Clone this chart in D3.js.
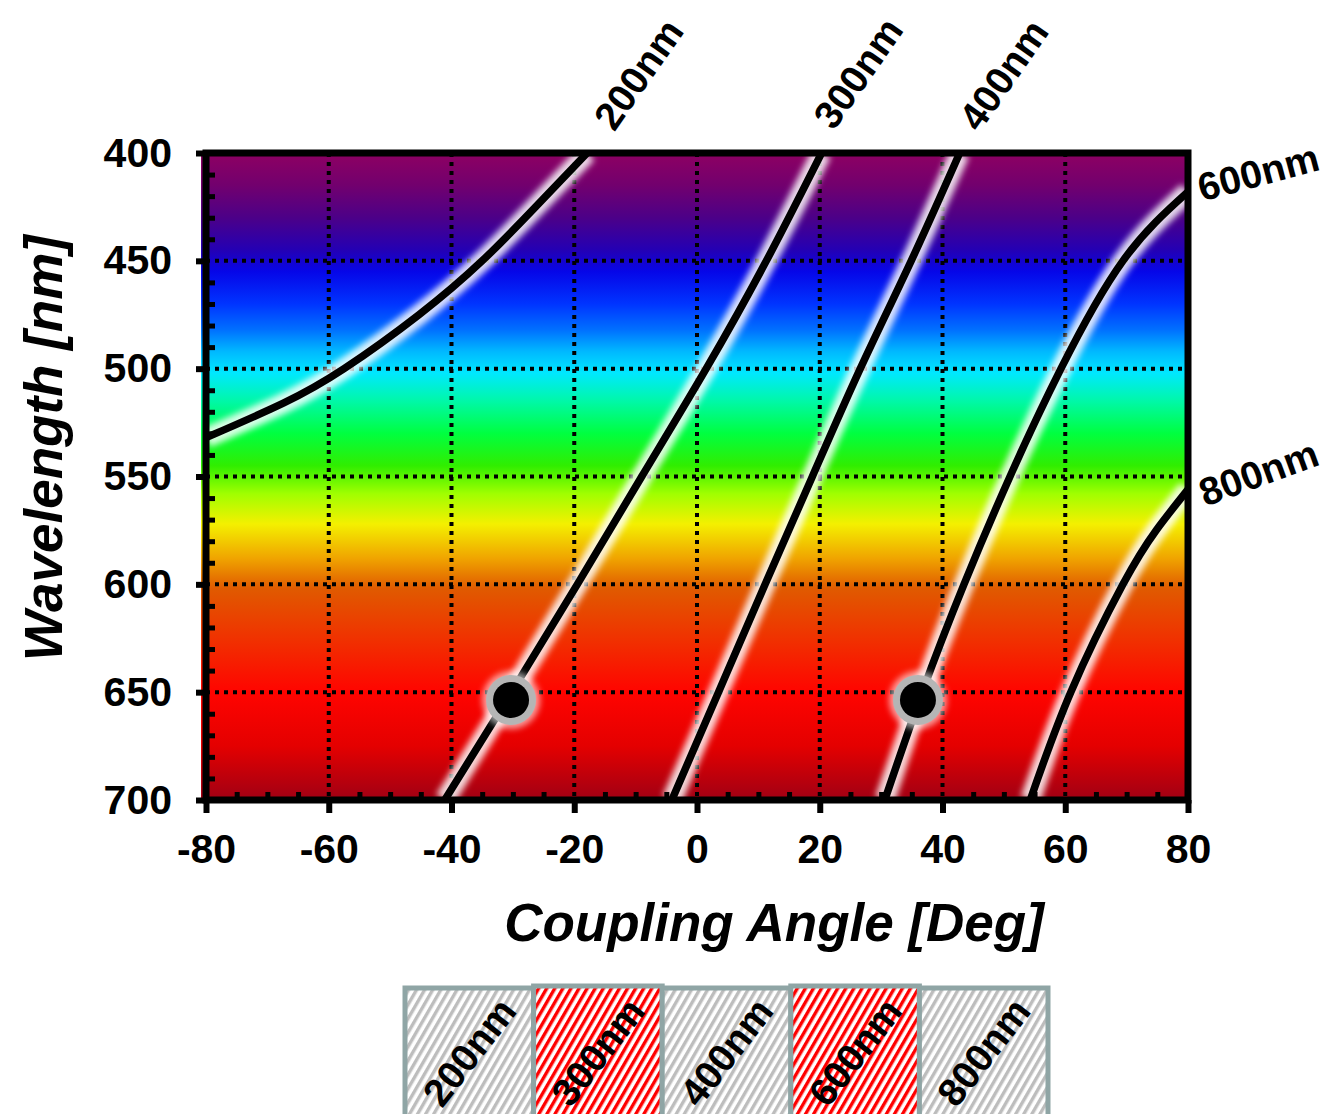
<!DOCTYPE html>
<html>
<head>
<meta charset="utf-8">
<script src="https://cdn.jsdelivr.net/npm/d3@7"></script>
<style>
body{margin:0;background:#fff;}
svg text{font-family:"Liberation Sans",Arial,sans-serif;font-weight:bold;}
</style>
</head>
<body>
<svg id="chart"></svg>
<script>
// grating pitches and their coupling curves, points as [wavelength nm, angle deg]
var pitches = ["200nm","300nm","400nm","600nm","800nm"];
var curve200 = [[400,-17.9],[425,-26.3],[450,-35.0],[475,-45.3],[500,-57.5],[516,-67.4],[532,-80]];
var curve300 = [[400,20.3],[450,11.3],[500,1.5],[550,-9.0],[600,-19.5],[650,-30.2],[700,-41.1]];
var curve400 = [[400,42.8],[450,34.9],[500,26.6],[550,18.8],[600,11.1],[650,3.5],[700,-4.1]];
var curve600 = [[418,80],[450,69.4],[500,59.3],[550,51.0],[600,43.5],[650,36.7],[700,30.6]];
var curve800 = [[556,80],[575,74.8],[600,69.4],[650,60.9],[700,54.3]];
var curves = [curve200,curve300,curve400,curve600,curve800];

// operating points (black dots)
var dotAngles = [-30.3, 36.0];
var dotWavelengths = [653.6, 653.6];

// pitches highlighted in the legend
var selected = ["300nm","600nm"];

// curve label anchors
var labelAngles = [-13.5, 22.3, 46.0, 82.3, 82.8];
var labelWavelengths = [390.5, 390.0, 390.8, 422.5, 564.0];
var labelRotate = [-55,-55,-55,-15,-20];

// axes
var xTicks = [-80,-60,-40,-20,0,20,40,60,80];
var yTicks = [400,450,500,550,600,650,700];

// visible spectrum used for the background
var spectrumNm = [400,415,430,445,455,470,482,492,502,515,530,545,558,572,588,602,625,650,675,700];
var spectrumColors = ["#8e0062","#72006e","#4c0088","#2400b4","#0606e8","#0034ff","#0070ff","#00b8ff","#00e8ff","#00f8a8","#00ff40","#30ee00","#a0ff00","#f4f000","#f0a400","#e05a00","#f03200","#ff0400","#e40000","#a00014"];

var svg = d3.select("#chart")
            .attr("width",1330)
            .attr("height",1114);

var x = d3.scaleLinear().domain([-80,80]).range([206,1188]);
var y = d3.scaleLinear().domain([400,700]).range([153,800]);

var defs = svg.append("defs");

var grad = defs.append("linearGradient")
               .attr("id","spectrum")
               .attr("gradientUnits","userSpaceOnUse")
               .attr("x1",0).attr("x2",0)
               .attr("y1",y(400)).attr("y2",y(700));
grad.selectAll("stop")
    .data(spectrumNm)
    .enter()
    .append("stop")
    .attr("offset",function(d){return (d-400)/300;})
    .attr("stop-color",function(d,i){return spectrumColors[i];});

defs.append("clipPath").attr("id","plotClip")
    .append("rect")
    .attr("x",x(-80)).attr("y",y(400))
    .attr("width",x(80)-x(-80)).attr("height",y(700)-y(400));

defs.append("filter").attr("id","blur")
    .attr("x","-30%").attr("y","-30%").attr("width","160%").attr("height","160%")
    .append("feGaussianBlur").attr("stdDeviation",3);

// hatch patterns for the legend
function hatch(id,color)
{
  var p = defs.append("pattern")
              .attr("id",id)
              .attr("patternUnits","userSpaceOnUse")
              .attr("width",7).attr("height",7)
              .attr("patternTransform","rotate(30)");
  p.append("rect").attr("width",7).attr("height",7).attr("fill","#fff");
  p.append("rect").attr("x",0).attr("width",3.4).attr("height",7).attr("fill",color);
}
hatch("hatchGrey","#bdbdbd");
hatch("hatchRed","#ff0000");

// background spectrum
svg.append("rect")
   .attr("x",x(-80)-5).attr("y",y(400)-2)
   .attr("width",x(80)-x(-80)+5).attr("height",y(700)-y(400)+5)
   .attr("fill","url(#spectrum)");

// dotted grid
var grid = svg.append("g").classed("grid",true);
grid.selectAll("line.v")
    .data(xTicks.slice(1,-1))
    .enter()
    .append("line")
    .attr("x1",function(d){return x(d);})
    .attr("x2",function(d){return x(d);})
    .attr("y1",y(400)).attr("y2",y(700))
    .attr("stroke","#000").attr("stroke-width",4)
    .attr("stroke-dasharray","4,5");
grid.selectAll("line.h")
    .data(yTicks.slice(1,-1))
    .enter()
    .append("line")
    .attr("y1",function(d){return y(d);})
    .attr("y2",function(d){return y(d);})
    .attr("x1",x(-80)).attr("x2",x(80))
    .attr("stroke","#000").attr("stroke-width",4)
    .attr("stroke-dasharray","4,5");

// curves
var line = d3.line()
             .x(function(d){return x(d[1]);})
             .y(function(d){return y(d[0]);})
             .curve(d3.curveNatural);

var plot = svg.append("g").attr("clip-path","url(#plotClip)");

plot.selectAll("path.glow")
    .data(curves)
    .enter()
    .append("path")
    .attr("d",line)
    .attr("fill","none")
    .attr("stroke","#fff")
    .attr("stroke-width",20)
    .attr("stroke-opacity",0.85)
    .attr("filter","url(#blur)");

plot.selectAll("path.curve")
    .data(curves)
    .enter()
    .append("path")
    .attr("d",line)
    .attr("fill","none")
    .attr("stroke","#000")
    .attr("stroke-width",7.5);

// operating points
var dots = svg.selectAll("g.dot")
              .data(dotAngles)
              .enter()
              .append("g")
              .attr("transform",function(d,i){return "translate("+x(d)+","+y(dotWavelengths[i])+")";});
dots.append("circle").attr("r",29).attr("fill","#fff").attr("opacity",0.6).attr("filter","url(#blur)");
dots.append("circle").attr("r",25).attr("fill","#b5b5b5");
dots.append("circle").attr("r",18).attr("fill","#000");

// minor ticks (inside)
var minorX = d3.range(-75,80,5).filter(function(d){return d%20!=0;});
var minorY = d3.range(410,700,10).filter(function(d){return d%50!=0;});

svg.append("g")
   .attr("transform","translate(0,"+y(700)+")")
   .call(d3.axisBottom(x).tickValues(minorX).tickSize(-8).tickFormat(""))
   .call(function(g){g.select(".domain").remove();})
   .selectAll("line").attr("stroke-width",5);

svg.append("g")
   .attr("transform","translate("+x(-80)+",0)")
   .call(d3.axisLeft(y).tickValues(minorY).tickSize(-9).tickFormat(""))
   .call(function(g){g.select(".domain").remove();})
   .selectAll("line").attr("stroke-width",5);

// major axes
var xAxis = svg.append("g")
               .attr("transform","translate(0,"+y(700)+")")
               .call(d3.axisBottom(x).tickValues(xTicks).tickSize(13).tickPadding(21)
                       .tickFormat(function(d){return String(d);}));
xAxis.select(".domain").remove();
xAxis.selectAll("line").attr("stroke-width",6);
xAxis.selectAll("text").style("font-size","41px").attr("fill","#000");

var yAxis = svg.append("g")
               .attr("transform","translate("+x(-80)+",0)")
               .call(d3.axisLeft(y).tickValues(yTicks).tickSize(10).tickPadding(24));
yAxis.select(".domain").remove();
yAxis.selectAll("line").attr("stroke-width",6);
yAxis.selectAll("text").style("font-size","41px").attr("fill","#000");

// frame
svg.append("rect")
   .attr("x",x(-80)).attr("y",y(400))
   .attr("width",x(80)-x(-80)).attr("height",y(700)-y(400))
   .attr("fill","none")
   .attr("stroke","#000")
   .attr("stroke-width",7);

// curve labels
svg.selectAll("text.curveLabel")
   .data(pitches)
   .enter()
   .append("text")
   .classed("curveLabel",true)
   .attr("transform",function(d,i){return "translate("+x(labelAngles[i])+","+y(labelWavelengths[i])+") rotate("+labelRotate[i]+")";})
   .style("font-size","39px")
   .text(function(d){return d;});

// axis titles
svg.append("text")
   .attr("x",774).attr("y",941)
   .attr("text-anchor","middle")
   .style("font-size","53px")
   .style("font-style","italic")
   .text("Coupling Angle [Deg]");

svg.append("text")
   .attr("transform","translate(62,448) rotate(-90)")
   .attr("text-anchor","middle")
   .style("font-size","53px")
   .style("font-style","italic")
   .text("Wavelength [nm]");

// legend of pitches
var lx = d3.scaleBand().domain(pitches).range([405,1048]);

var legend = svg.append("g").classed("legend",true);
var items = legend.selectAll("g")
                  .data(pitches)
                  .enter()
                  .append("g");
items.append("rect")
     .attr("x",function(d){return lx(d);})
     .attr("y",function(d){return selected.indexOf(d)>=0 ? 986 : 988;})
     .attr("width",lx.bandwidth())
     .attr("height",140)
     .attr("fill",function(d){return selected.indexOf(d)>=0 ? "url(#hatchRed)" : "url(#hatchGrey)";})
     .attr("stroke","#8fa5a5")
     .attr("stroke-width",5);
items.append("text")
     .attr("transform",function(d){return "translate("+(lx(d)+lx.bandwidth()/2)+",1052) rotate(-52)";})
     .attr("text-anchor","middle")
     .attr("dominant-baseline","central")
     .style("font-size","39px")
     .text(function(d){return d;});
</script>
</body>
</html>
